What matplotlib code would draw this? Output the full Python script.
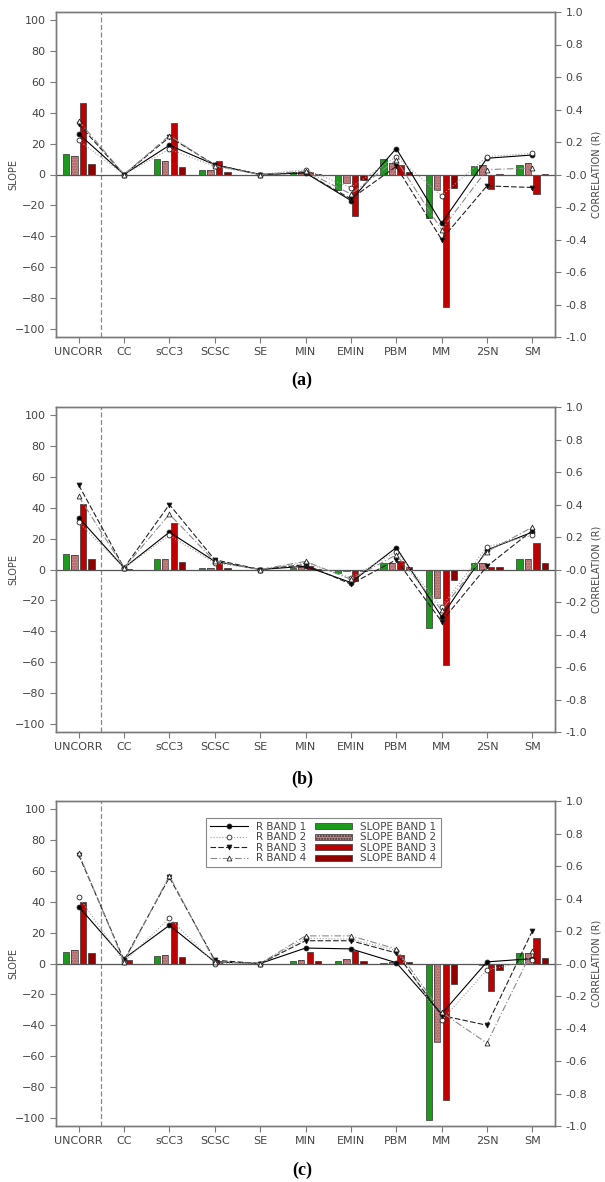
import numpy as np
import matplotlib
matplotlib.use("Agg")
import matplotlib.pyplot as plt
from matplotlib.patches import Patch
from matplotlib.lines import Line2D

categories = ['UNCORR', 'CC', 'sCC3', 'SCSC', 'SE', 'MIN', 'EMIN', 'PBM', 'MM', '2SN', 'SM']

# panel (a)
slope_a1 = [13.3, 0, 9.9, 2.6, 0, 1.3, -9.9, 9.9, -27.9, 5.4, 6.4]
slope_a2 = [12.2, 0, 8.8, 2.6, 0, 1.7, -5.6, 7.3, -10.3, 6.0, 7.5]
slope_a3 = [45.9, 0, 33.0, 8.8, 0, 1.7, -27.0, 6.4, -85.3, -9.6, -12.4]
slope_a4 = [6.6, 0, 4.9, 1.5, 0, 0.5, -3.4, 1.7, -8.6, 0.3, 0.5]
r_a1 = [0.25, 0, 0.18, 0.06, 0, 0.01, -0.16, 0.16, -0.30, 0.10, 0.12]
r_a2 = [0.21, 0, 0.155, 0.05, 0, 0.03, -0.08, 0.11, -0.13, 0.11, 0.13]
r_a3 = [0.31, 0, 0.23, 0.06, 0, 0.01, -0.15, 0.05, -0.40, -0.07, -0.08]
r_a4 = [0.33, 0, 0.24, 0.055, 0, 0.02, -0.12, 0.09, -0.34, 0.03, 0.04]

# panel (b)
slope_b1 = [10.3, 0, 7.1, 1.1, 0, 1.0, -2.4, 4.5, -37.7, 4.0, 7.1]
slope_b2 = [9.2, 0, 6.9, 1.1, 0, 1.5, -0.8, 4.2, -18.2, 4.2, 7.1]
slope_b3 = [42.4, 0.5, 29.8, 4.5, 0, 2.0, -7.7, 5.2, -62.0, 1.5, 17.1]
slope_b4 = [6.9, 0, 5.1, 0.8, 0, 0.5, -1.0, 1.9, -7.0, 1.6, 4.0]
r_b1 = [0.32, 0.01, 0.23, 0.05, 0, 0.02, -0.08, 0.135, -0.29, 0.12, 0.23]
r_b2 = [0.29, 0.01, 0.21, 0.04, 0, 0.04, -0.05, 0.11, -0.23, 0.14, 0.21]
r_b3 = [0.52, 0.01, 0.40, 0.06, 0, 0.03, -0.09, 0.06, -0.32, 0.02, 0.24]
r_b4 = [0.45, 0.01, 0.34, 0.05, 0, 0.05, -0.06, 0.09, -0.25, 0.11, 0.26]

# panel (c)
slope_c1 = [7.5, 0, 5.1, 0, 0, 1.6, 1.7, 0.3, -101.0, 0, 6.9]
slope_c2 = [8.8, 0, 5.6, 0, 0, 2.4, 2.6, 0.8, -51.0, -0.8, 6.9]
slope_c3 = [39.7, 2.0, 26.8, 1.5, 0, 7.4, 8.1, 5.3, -88.0, -17.8, 16.7]
slope_c4 = [6.9, 0, 4.3, 0, 0, 1.4, 1.5, 0.9, -13.3, -3.9, 3.4]
r_c1 = [0.35, 0.03, 0.235, 0.01, 0, 0.095, 0.09, 0.005, -0.31, 0.01, 0.03]
r_c2 = [0.41, 0.01, 0.28, 0.0, 0, 0.155, 0.15, 0.08, -0.35, -0.04, 0.02]
r_c3 = [0.67, 0.02, 0.53, 0.02, 0, 0.14, 0.14, 0.065, -0.32, -0.38, 0.20]
r_c4 = [0.68, 0.01, 0.54, 0.01, 0, 0.17, 0.17, 0.09, -0.30, -0.49, 0.08]

bar_colors = ['#1c9a1c', '#c98585', '#c00000', '#8e0000']
line_styles = [
    dict(color='black', ls='-', marker='o', mfc='black'),
    dict(color='#a0a0a0', ls=':', marker='o', mfc='white'),
    dict(color='#222222', ls=(0, (5, 2)), marker='v', mfc='black'),
    dict(color='#8a8a8a', ls=(0, (6, 2, 1, 2)), marker='^', mfc='white'),
]
axis_grey = '#7a7a7a'
text_grey = '#454545'

plt.rcParams['font.family'] = ['DejaVu Sans']


def draw_panel(fig, rect, slopes, rs, tag, tag_y, legend=False):
    ax = fig.add_axes(rect)
    x = np.arange(len(categories))
    width = 0.14
    offsets = [-0.28, -0.095, 0.095, 0.28]
    for i in range(4):
        if i == 1:
            ax.bar(x + offsets[i], slopes[i], width, color=bar_colors[i],
                   hatch='......', edgecolor='#a45c5c', linewidth=0, zorder=2)
            ax.bar(x + offsets[i], slopes[i], width, fill=False,
                   edgecolor='#333333', linewidth=0.5, zorder=3)
        else:
            ax.bar(x + offsets[i], slopes[i], width, color=bar_colors[i],
                   edgecolor='#333333', linewidth=0.5, zorder=3)
    ax.axhline(0, color='#555555', lw=0.9, zorder=4)
    ax.axvline(0.5, color='#888888', lw=0.9, ls=(0, (4, 2)), zorder=1)
    ax.set_xlim(-0.5, 10.5)
    ax.set_ylim(-105, 105)
    ax.set_yticks(np.arange(-100, 101, 20))
    ax.set_xticks(x)
    ax.set_xticklabels(categories)
    ax.set_ylabel('SLOPE', fontsize=7, color=text_grey)
    ax.yaxis.set_label_coords(-0.076, 0.5)

    ax2 = ax.twinx()
    for i in range(4):
        st = line_styles[i]
        ax2.plot(x, rs[i], color=st['color'], ls=st['ls'], lw=0.8,
                 marker=st['marker'], markersize=3.5, mfc=st['mfc'],
                 mec='#222222', mew=0.6, zorder=5)
    ax2.set_ylim(-1, 1)
    ax2.set_yticks(np.arange(-1.0, 1.01, 0.2))
    ax2.set_yticklabels(['%.1f' % v for v in np.arange(-1.0, 1.01, 0.2)])
    ax2.set_ylabel('CORRELATION (R)', fontsize=7, color=text_grey, rotation=90)
    ax2.yaxis.set_label_coords(1.074, 0.5)

    for a in (ax, ax2):
        for s in a.spines.values():
            s.set_color(axis_grey)
            s.set_linewidth(1.0)
        a.tick_params(colors=axis_grey, labelcolor=text_grey, labelsize=8,
                      length=4, width=0.8, direction='out')

    fig.text(302 / 605, 1 - tag_y / 1182, tag, ha='center', va='center',
             fontsize=13, fontweight='bold', family='Liberation Serif')

    if legend:
        handles = []
        labels = []
        for i in range(4):
            st = line_styles[i]
            handles.append(Line2D([], [], color=st['color'], ls=st['ls'], lw=0.8,
                                  marker=st['marker'], markersize=3.5, mfc=st['mfc'],
                                  mec='#222222', mew=0.6))
            labels.append('R BAND %d' % (i + 1))
        for i in range(4):
            if i == 1:
                handles.append(Patch(facecolor=bar_colors[i], hatch='......',
                                     edgecolor='#333333', linewidth=0.5))
            else:
                handles.append(Patch(facecolor=bar_colors[i], edgecolor='#333333',
                                     linewidth=0.5))
            labels.append('SLOPE BAND %d' % (i + 1))
        leg = ax2.legend(handles, labels, ncol=2, loc='upper left',
                         bbox_to_anchor=(0.29, 0.965), fontsize=7.5,
                         handlelength=3.6, handleheight=0.5, labelspacing=0.05,
                         columnspacing=0.8, handletextpad=0.8, borderpad=0.4,
                         fancybox=False, framealpha=1, edgecolor='#888888',
                         numpoints=1)
        for t in leg.get_texts():
            t.set_color(text_grey)
        leg.get_frame().set_linewidth(0.8)
    return ax, ax2


def main():
    fig = plt.figure(figsize=(6.05, 11.82), dpi=100)
    left = 56 / 605
    w = (555 - 56) / 605
    h = 325 / 1182
    draw_panel(fig, [left, 1 - 337 / 1182, w, h],
               [slope_a1, slope_a2, slope_a3, slope_a4],
               [r_a1, r_a2, r_a3, r_a4], '(a)', 380)
    draw_panel(fig, [left, 1 - 732 / 1182, w, h],
               [slope_b1, slope_b2, slope_b3, slope_b4],
               [r_b1, r_b2, r_b3, r_b4], '(b)', 779)
    draw_panel(fig, [left, 1 - 1126 / 1182, w, h],
               [slope_c1, slope_c2, slope_c3, slope_c4],
               [r_c1, r_c2, r_c3, r_c4], '(c)', 1170, legend=True)
    fig.savefig('out.png', dpi=100)


if __name__ == '__main__':
    main()
